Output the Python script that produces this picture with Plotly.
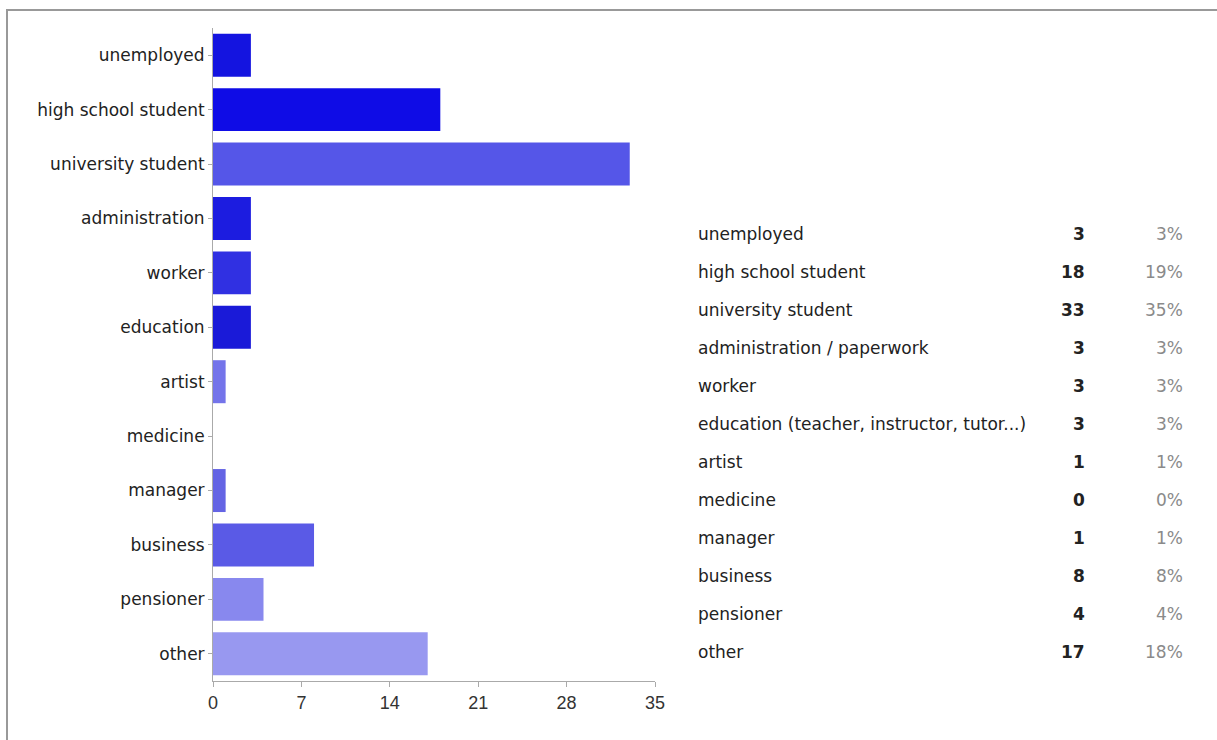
import plotly.graph_objects as go

# Survey answers: occupation of respondents
categories = ["unemployed", "high school student", "university student", "administration",
              "worker", "education", "artist", "medicine", "manager", "business",
              "pensioner", "other"]
table_labels = ["unemployed", "high school student", "university student",
                "administration / paperwork", "worker",
                "education (teacher, instructor, tutor...)", "artist", "medicine",
                "manager", "business", "pensioner", "other"]
counts = [3, 18, 33, 3, 3, 3, 1, 0, 1, 8, 4, 17]
bar_colors = ["#1414e0", "#0f0ce6", "#5556e8", "#1c1ce0", "#3030e2", "#1a1ad8",
              "#7474ea", "#7070e8", "#6464e4", "#5a5ae6", "#8888ee", "#9898f0"]
x_ticks = [0, 7, 14, 21, 28, 35]

W, H = 1217, 740
total = sum(counts)
percents = [f"{int(100 * c / total)}%" for c in counts]

FONT = "DejaVu Sans"
LABEL_SIZE = 17

fig = go.Figure(go.Bar(
    x=counts, y=categories, orientation="h",
    marker=dict(color=bar_colors, line=dict(width=0)),
    width=0.79, hoverinfo="x+y",
))

def px_x(p):
    return p / W

def px_y(p):
    return 1 - p / H

fig.update_layout(
    width=W, height=H,
    margin=dict(l=0, r=0, t=0, b=0),
    paper_bgcolor="white", plot_bgcolor="white",
    showlegend=False,
    font=dict(family=FONT, size=LABEL_SIZE, color="#222222"),
    xaxis=dict(
        domain=[px_x(213), px_x(655)],
        range=[0, 35], tickvals=x_ticks, ticks="outside", ticklen=5,
        tickcolor="#aaaaaa", showline=True, linecolor="#aaaaaa", linewidth=1,
        showgrid=False, zeroline=False, automargin=False,
        tickfont=dict(family="Liberation Sans Narrow, Liberation Sans", size=18, color="#333333"),
    ),
    yaxis=dict(
        domain=[px_y(681), px_y(28)],
        categoryorder="array", categoryarray=categories, autorange="reversed",
        ticks="outside", ticklen=4, tickcolor="#aaaaaa",
        showline=True, linecolor="#aaaaaa", linewidth=1,
        showgrid=False, zeroline=False, automargin=False,
        tickfont=dict(family=FONT, size=LABEL_SIZE, color="#222222"),
    ),
)

# Outer frame
fig.add_shape(type="rect", xref="paper", yref="paper",
              x0=px_x(7), x1=1.02, y0=-0.02, y1=px_y(10),
              line=dict(color="#999999", width=2), fillcolor="rgba(0,0,0,0)")

# Summary table at the right
row0, row_step = 234, 38
for i, (lab, c, pct) in enumerate(zip(table_labels, counts, percents)):
    yy = px_y(row0 + row_step * i)
    fig.add_annotation(x=px_x(696), y=yy, xref="paper", yref="paper",
                       text=lab, showarrow=False, xanchor="left", yanchor="middle",
                       font=dict(family=FONT, size=LABEL_SIZE, color="#222222"))
    fig.add_annotation(x=px_x(1087), y=yy, xref="paper", yref="paper",
                       text=f"<b>{c}</b>", showarrow=False, xanchor="right", yanchor="middle",
                       font=dict(family=FONT, size=LABEL_SIZE, color="#222222"))
    fig.add_annotation(x=px_x(1185), y=yy, xref="paper", yref="paper",
                       text=pct, showarrow=False, xanchor="right", yanchor="middle",
                       font=dict(family=FONT, size=LABEL_SIZE, color="#8a8a8a"))

fig.write_html("out.html")
